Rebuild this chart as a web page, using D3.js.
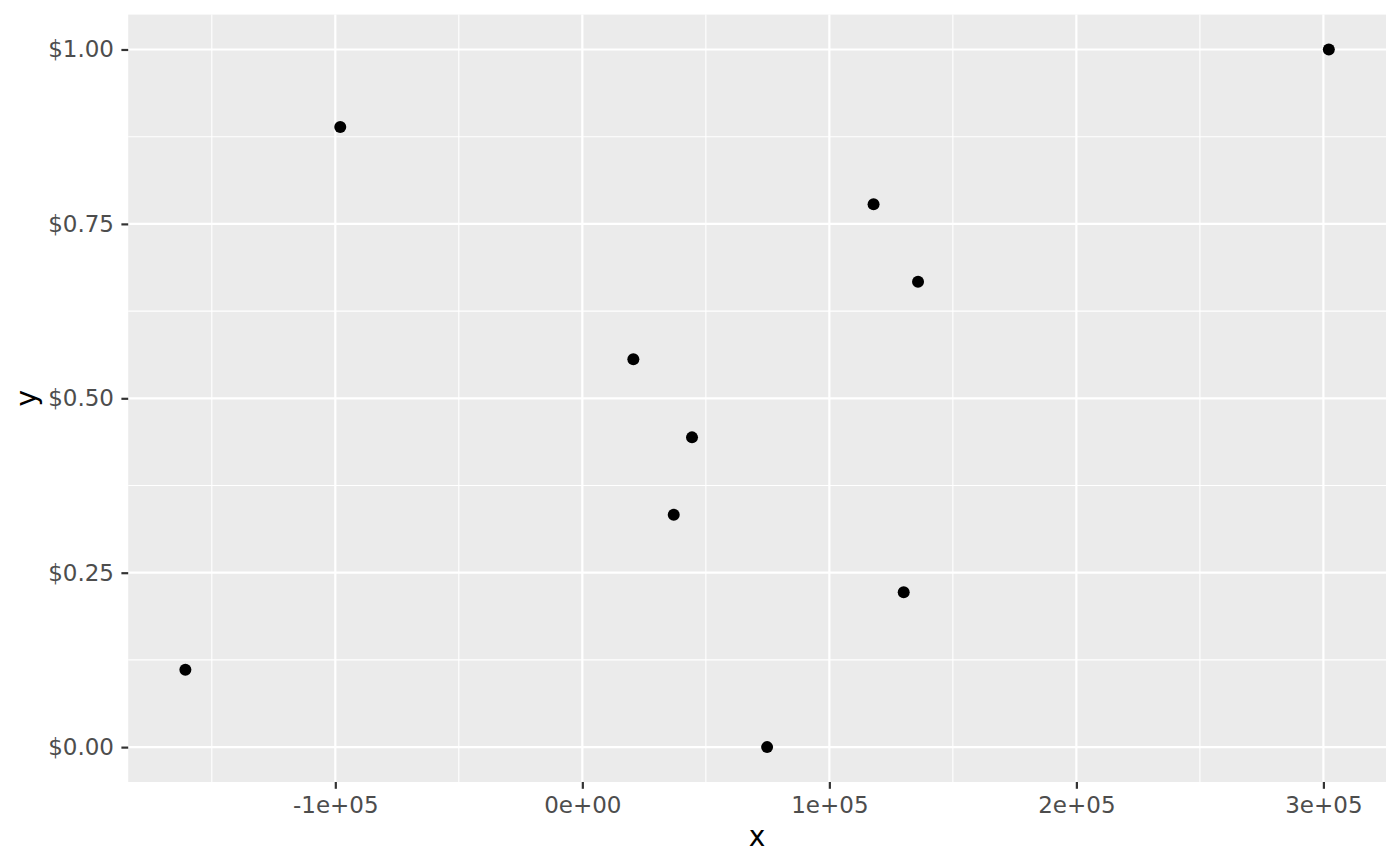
<!DOCTYPE html>
<html>
<head>
<meta charset="utf-8">
<script src="https://cdn.jsdelivr.net/npm/d3@7"></script>
<style>
  html, body { margin: 0; padding: 0; background: #fff; }
  svg { display: block; font-family: "DejaVu Sans", sans-serif; }
</style>
</head>
<body>
<div id="chart"></div>
<script>
// point data
const xValues = [-160700, -98000, 302200, 117900, 135900, 20650, 44400, 37000, 130100, 74800];
const yValues = [0.111, 0.889, 1.0, 0.778, 0.667, 0.556, 0.444, 0.333, 0.222, 0.0];

const xTicks = [-100000, 0, 100000, 200000, 300000];
const xTickLabels = ["-1e+05", "0e+00", "1e+05", "2e+05", "3e+05"];
const xMinor = [-150000, -50000, 50000, 150000, 250000];
const yTicks = [0, 0.25, 0.5, 0.75, 1.0];
const yTickLabels = ["$0.00", "$0.25", "$0.50", "$0.75", "$1.00"];
const yMinor = [0.125, 0.375, 0.625, 0.875];

const width = 1400, height = 866;
const panel = { left: 128.2, top: 14.6, right: 1386, bottom: 782 };

const points = xValues.map((x, i) => ({ x, y: yValues[i] }));

// ggplot-style 5% expansion
const xExt = d3.extent(xValues), xPad = (xExt[1] - xExt[0]) * 0.05;
const yExt = d3.extent(yValues), yPad = (yExt[1] - yExt[0]) * 0.05;

const x = d3.scaleLinear().domain([xExt[0] - xPad, xExt[1] + xPad]).range([panel.left, panel.right]);
const y = d3.scaleLinear().domain([yExt[0] - yPad, yExt[1] + yPad]).range([panel.bottom, panel.top]);

const svg = d3.select("#chart").append("svg").attr("width", width).attr("height", height);

svg.append("rect")
  .attr("x", panel.left).attr("y", panel.top)
  .attr("width", panel.right - panel.left).attr("height", panel.bottom - panel.top)
  .attr("fill", "#ebebeb");

const grid = svg.append("g").attr("stroke", "#fff").attr("fill", "none");
grid.selectAll(".xmin").data(xMinor).join("line")
  .attr("x1", d => x(d)).attr("x2", d => x(d)).attr("y1", panel.top).attr("y2", panel.bottom)
  .attr("stroke-width", 1.1);
grid.selectAll(".ymin").data(yMinor).join("line")
  .attr("y1", d => y(d)).attr("y2", d => y(d)).attr("x1", panel.left).attr("x2", panel.right)
  .attr("stroke-width", 1.1);
grid.selectAll(".xmaj").data(xTicks).join("line")
  .attr("x1", d => x(d)).attr("x2", d => x(d)).attr("y1", panel.top).attr("y2", panel.bottom)
  .attr("stroke-width", 2.2);
grid.selectAll(".ymaj").data(yTicks).join("line")
  .attr("y1", d => y(d)).attr("y2", d => y(d)).attr("x1", panel.left).attr("x2", panel.right)
  .attr("stroke-width", 2.2);

svg.append("g")
  .selectAll("circle")
  .data(points)
  .join("circle")
  .attr("cx", d => x(d.x))
  .attr("cy", d => y(d.y))
  .attr("r", 6)
  .attr("fill", "#000");

// axes
const xAxis = svg.append("g")
  .attr("transform", `translate(0,${panel.bottom})`)
  .call(d3.axisBottom(x).tickValues(xTicks).tickFormat((d, i) => xTickLabels[i]).tickSize(6.8).tickPadding(7.4));
const yAxis = svg.append("g")
  .attr("transform", `translate(${panel.left},0)`)
  .call(d3.axisLeft(y).tickValues(yTicks).tickFormat((d, i) => yTickLabels[i]).tickSize(6.8).tickPadding(7.4));

[xAxis, yAxis].forEach(g => {
  g.select(".domain").remove();
  g.selectAll(".tick line").attr("stroke", "#333333").attr("stroke-width", 2.2);
  g.selectAll(".tick text")
    .attr("fill", "#4d4d4d")
    .attr("font-size", "23px")
    .attr("font-family", "DejaVu Sans, sans-serif");
});

svg.append("text")
  .attr("x", (panel.left + panel.right) / 2)
  .attr("y", 846)
  .attr("text-anchor", "middle")
  .attr("font-size", "28px")
  .attr("fill", "#000")
  .text("x");

svg.append("text")
  .attr("transform", `translate(36,${(panel.top + panel.bottom) / 2}) rotate(-90)`)
  .attr("text-anchor", "middle")
  .attr("font-size", "28px")
  .attr("fill", "#000")
  .text("y");
</script>
</body>
</html>
